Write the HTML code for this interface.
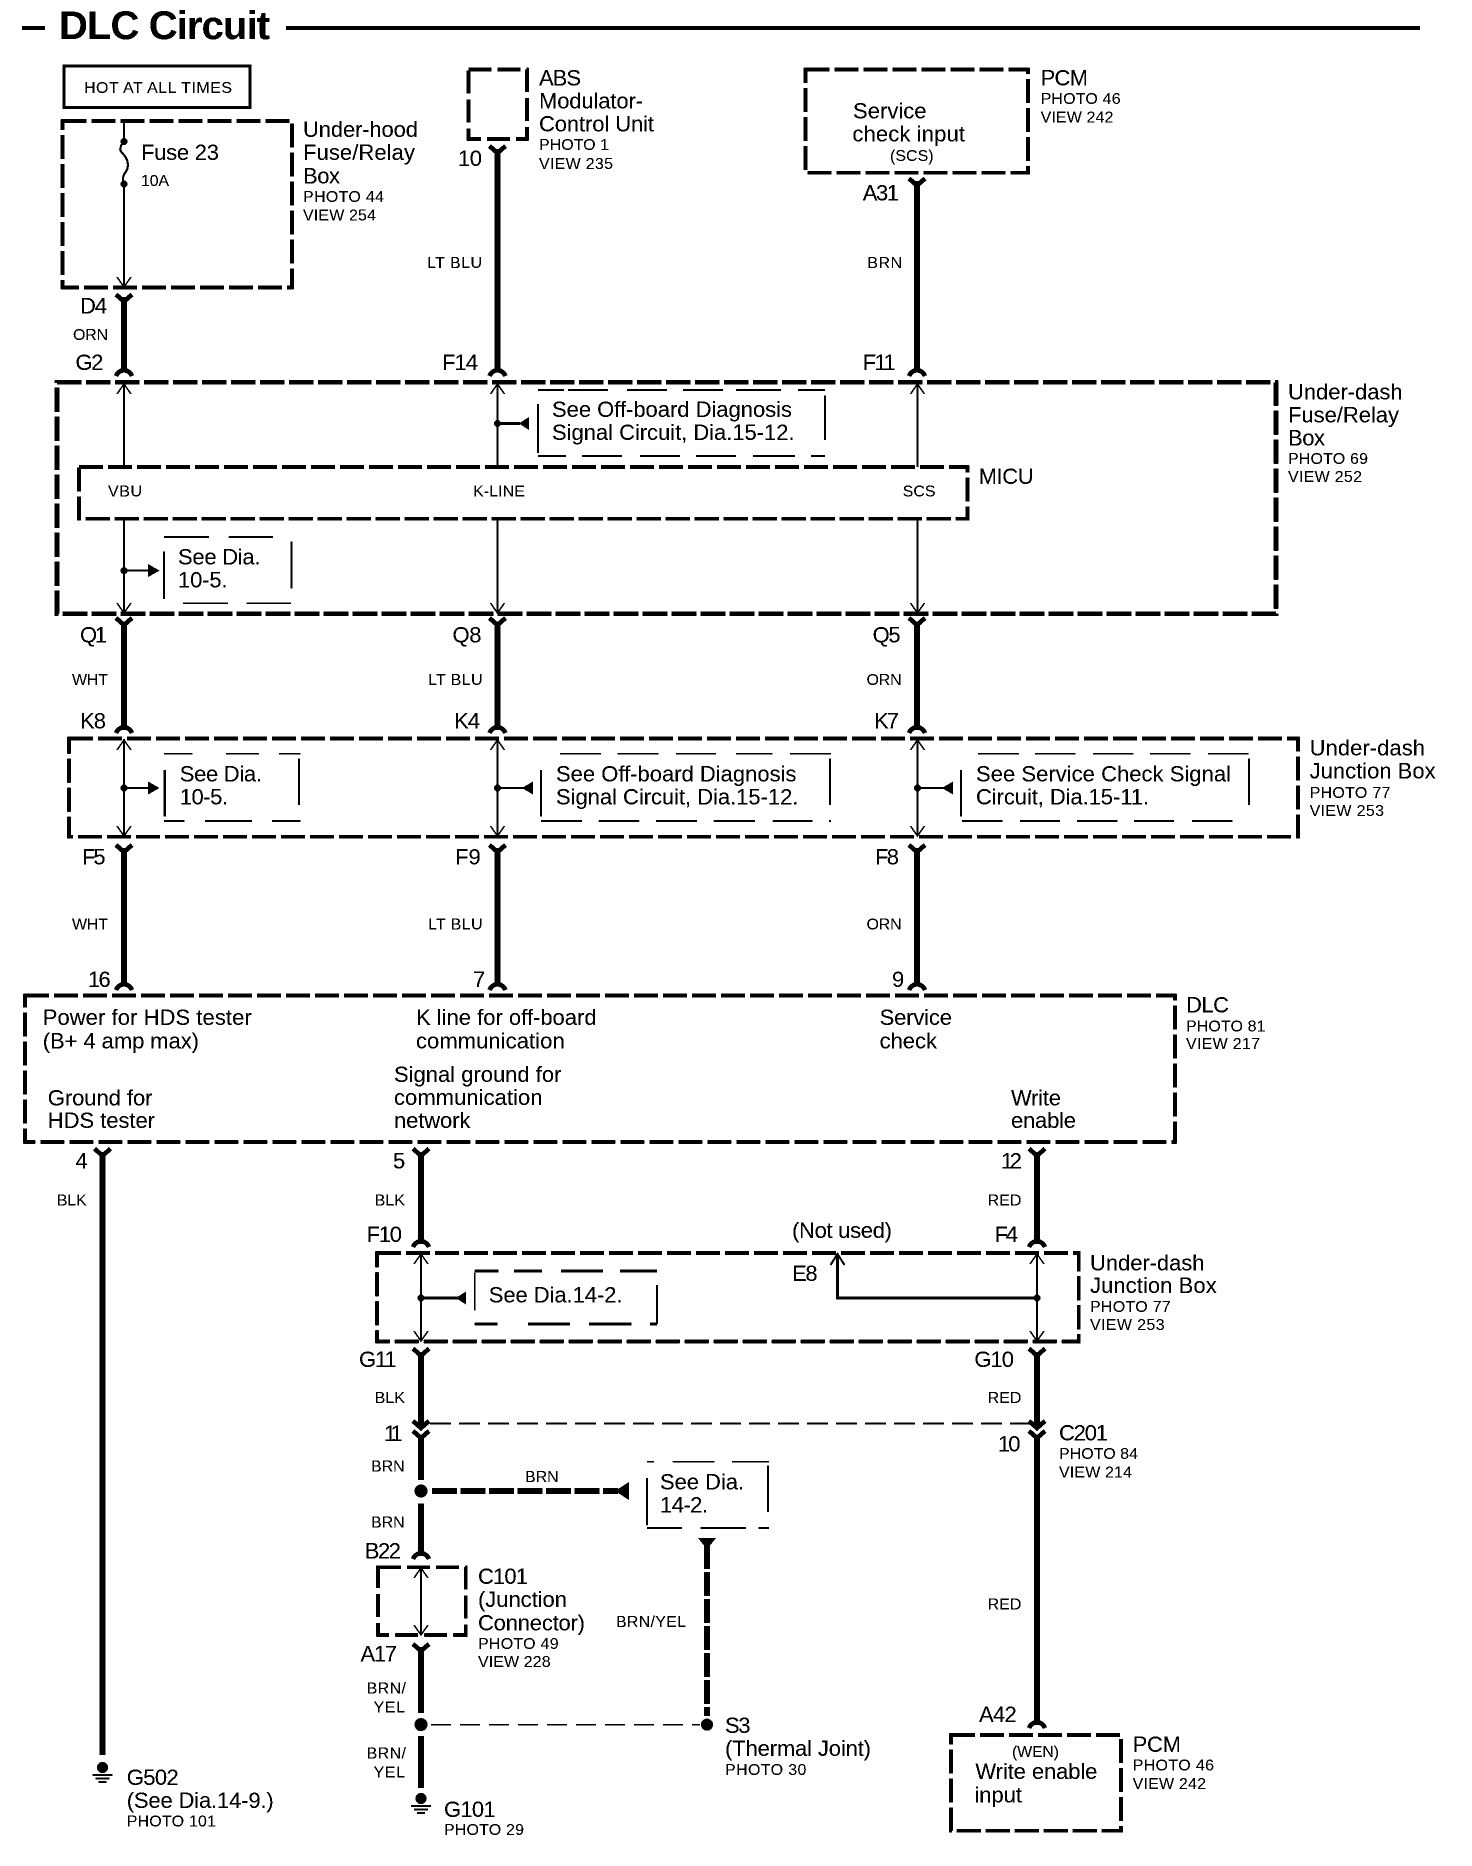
<!DOCTYPE html>
<html lang="en"><head><meta charset="utf-8"><title>DLC Circuit</title>
<style>
html,body{margin:0;padding:0;background:#fff}
svg{display:block;background:#fff}
text{font-family:"Liberation Sans",Arial,sans-serif;font-size:22px;fill:#000;transform:translateX(-1px)}
.s{font-size:16px}
.n{fill:none;stroke:#000}
.b{stroke-width:4.5;stroke-dasharray:24.5 4.5}
.m{stroke-width:3.6;stroke-dasharray:24 5}
.w{stroke-width:6}
.t{stroke-width:1.5}
.h{stroke-width:2;stroke-dasharray:40 18}
</style></head><body>
<svg xmlns="http://www.w3.org/2000/svg" width="1472" height="1866" viewBox="0 0 1472 1866">
<defs>
<filter id="bw" x="0" y="0" width="100%" height="100%" color-interpolation-filters="sRGB"><feFlood flood-color="#fff" result="bg"/><feMerge result="m"><feMergeNode in="bg"/><feMergeNode in="SourceGraphic"/></feMerge><feComponentTransfer in="m"><feFuncR type="discrete" tableValues="0 0 0 0 0 0 1 1 1 1"/><feFuncG type="discrete" tableValues="0 0 0 0 0 0 1 1 1 1"/><feFuncB type="discrete" tableValues="0 0 0 0 0 0 1 1 1 1"/></feComponentTransfer></filter>
<g id="f"><path class="n" stroke-width="4.5" d="M-8 0L0 7L8 0"/></g>
<g id="a"><path class="n" stroke-width="4.5" d="M-8 6Q-6 1 0 0Q6 1 8 6"/></g>
<g id="u"><path class="n" stroke-width="1.5" d="M-7 10L0 0L7 10"/></g>
<g id="d"><path class="n" stroke-width="1.5" d="M-7 -10L0 0L7 -10"/></g>
<g id="g"><circle cx="0" cy="-0.500" r="5.500"/><path class="n" stroke-width="2" d="M-10 7H10M-7 10.500H7M-4 14H4"/></g>
</defs>
<g filter="url(#bw)">

<!-- title -->
<path class="n" stroke-width="4" d="M22 28H45M286 28H1420"/>
<text x="60" y="39" style="font-size:40px;font-weight:bold" textLength="211">DLC Circuit</text>

<!-- hot at all times -->
<rect class="n" stroke-width="3" x="64" y="66" width="186" height="41.500"/>
<text class="s" x="85" y="93" textLength="148">HOT AT ALL TIMES</text>

<!-- under-hood -->
<rect class="n m" x="62.500" y="121" width="229.500" height="166.500"/>
<path class="n t" d="M124 121V141M124 184V287"/>
<path class="n" stroke-width="2" d="M124 141C118 149 120 151 124 155C129 161 129 168 125 173C122 177 123 180 124 184"/>
<circle cx="124" cy="141.500" r="3.500"/><circle cx="124" cy="184" r="3.500"/>
<use href="#d" x="124" y="287"/>
<text x="142" y="160" textLength="78">Fuse 23</text>
<text class="s" x="142" y="186" textLength="28">10A</text>
<text x="304" y="137" textLength="115">Under-hood</text>
<text x="304" y="160" textLength="112">Fuse/Relay</text>
<text x="304" y="183.500" textLength="37">Box</text>
<text class="s" x="304" y="202" textLength="81">PHOTO 44</text>
<text class="s" x="304" y="220.500" textLength="73">VIEW 254</text>

<!-- ABS -->
<rect class="n" stroke-width="3.500" stroke-dasharray="23 6" x="468.500" y="69.500" width="58.500" height="69.500"/>
<text x="540" y="85.400" textLength="42">ABS</text>
<text x="540" y="108.700" textLength="104">Modulator-</text>
<text x="540" y="131.700" textLength="115">Control Unit</text>
<text class="s" x="540" y="150" textLength="70">PHOTO 1</text>
<text class="s" x="540" y="169" textLength="74">VIEW 235</text>

<!-- PCM top -->
<rect class="n m" x="805.500" y="69.600" width="222.500" height="103.200"/>
<text x="854" y="118.600" textLength="73.500">Service</text>
<text x="853.400" y="141.600" textLength="112.600">check input</text>
<text class="s" x="891" y="161" textLength="43.600">(SCS)</text>
<text x="1041.600" y="85.400" textLength="47.400">PCM</text>
<text class="s" x="1041.600" y="104" textLength="80">PHOTO 46</text>
<text class="s" x="1041.600" y="122.500" textLength="72.800">VIEW 242</text>

<!-- wires row 1 -->
<path class="n w" d="M124 297V372M497.500 149V372M917 181V372"/>
<use href="#f" x="124" y="294.500"/><use href="#f" x="497.500" y="146"/><use href="#f" x="917" y="178.500"/>
<use href="#a" x="124" y="370"/><use href="#a" x="497.500" y="370"/><use href="#a" x="917" y="370"/>
<text x="81" y="313.600" textLength="27">D4</text>
<text class="s" x="74" y="340" textLength="35">ORN</text>
<text x="76.500" y="370" textLength="28">G2</text>
<text x="459" y="166" textLength="24">10</text>
<text class="s" x="428" y="268" textLength="55">LT BLU</text>
<text x="443" y="370" textLength="36">F14</text>
<text x="863.700" y="200.500" textLength="36.300">A31</text>
<text class="s" x="868.400" y="268" textLength="34.600">BRN</text>
<text x="863.700" y="370" textLength="33">F11</text>

<!-- under-dash fuse/relay box -->
<rect class="n b" x="57" y="382.400" width="1219" height="231.300"/>
<rect class="n m" x="79" y="467" width="888.500" height="51.800"/>
<path class="n t" d="M124 382V467M124 519V613M497.500 382V467M497.500 519V613M917.500 382V467M917.500 519V613"/>
<use href="#u" x="124" y="384"/><use href="#u" x="497.500" y="384"/><use href="#u" x="917.500" y="384"/>
<use href="#d" x="124" y="613"/><use href="#d" x="497.500" y="613"/><use href="#d" x="917.500" y="613"/>
<text class="s" x="109" y="496.400" textLength="34">VBU</text>
<text class="s" x="474" y="496.400" textLength="52">K-LINE</text>
<text class="s" x="903.600" y="496.400" textLength="33">SCS</text>
<text x="979.600" y="484" textLength="55">MICU</text>
<text x="1289" y="399.400" textLength="114.600">Under-dash</text>
<text x="1289" y="422.700" textLength="111">Fuse/Relay</text>
<text x="1289" y="445.600" textLength="37">Box</text>
<text class="s" x="1289" y="464" textLength="80">PHOTO 69</text>
<text class="s" x="1289" y="482" textLength="74">VIEW 252</text>

<circle cx="497.500" cy="423.500" r="3.500"/>
<path class="n" stroke-width="2.500" d="M497.500 423.500H520"/><path d="M519 423.500L529 417V430Z"/>
<path class="n t" d="M538 404V453M825 395.400V440"/>
<path class="n t" d="M538 390H564M568 390H608M627 390H667M683 390H723M736 390H781M798 390H825M538 456H566M582 456H622M640 456H680M696 456H736M753 456H795M811 456H825"/>
<text x="553" y="417" textLength="240">See Off-board Diagnosis</text>
<text x="553" y="440" textLength="242.600">Signal Circuit, Dia.15-12.</text>

<circle cx="124" cy="570.600" r="3.500"/>
<path class="n" stroke-width="2" d="M124 570.600H150"/><path d="M148 564V577L159.500 570.600Z"/>
<path class="n" stroke-width="2" d="M164 551.600V599M291.500 541.700V588.400"/>
<path class="n" stroke-width="1.500" d="M164 537H209M228.600 537H273M183 603.400H228M246.500 603.400H291"/>
<text x="179" y="564.600" textLength="82.500">See Dia.</text>
<text x="179" y="587.600" textLength="49.600">10-5.</text>

<!-- row Q/K -->
<path class="n w" d="M124 622V730M497.500 622V730M917 622V730"/>
<use href="#f" x="124" y="618"/><use href="#f" x="497.500" y="618"/><use href="#f" x="917" y="618"/>
<use href="#a" x="124" y="727"/><use href="#a" x="497.500" y="727"/><use href="#a" x="917" y="727"/>
<text x="81" y="642.500" textLength="27">Q1</text>
<text class="s" x="73" y="685" textLength="36">WHT</text>
<text x="81" y="728.700" textLength="26">K8</text>
<text x="453.500" y="642.500" textLength="29">Q8</text>
<text class="s" x="429" y="685" textLength="54.500">LT BLU</text>
<text x="455" y="728.700" textLength="26">K4</text>
<text x="873.600" y="642.500" textLength="28">Q5</text>
<text class="s" x="867.500" y="685" textLength="35">ORN</text>
<text x="875" y="728.700" textLength="25">K7</text>

<!-- junction box -->
<rect class="n m" x="69" y="738.600" width="1229" height="98.100"/>
<path class="n t" d="M124 739V836M497.500 739V836M917.500 739V836"/>
<use href="#u" x="124" y="740"/><use href="#u" x="497.500" y="740"/><use href="#u" x="917.500" y="740"/>
<use href="#d" x="124" y="836"/><use href="#d" x="497.500" y="836"/><use href="#d" x="917.500" y="836"/>
<circle cx="124" cy="788" r="3.500"/><circle cx="497.500" cy="788" r="3.500"/><circle cx="917.500" cy="788" r="3.500"/>
<path class="n" stroke-width="2" d="M124 788H150M497.500 788H524M917.500 788H944"/>
<path d="M148 781.500V794.500L159.500 788Z"/><path d="M522 788L533 781.500V794.500Z"/><path d="M942 788L953 781.500V794.500Z"/>
<path class="n" stroke-width="2" d="M164.800 770V816.500M299 758.400V805M541 770V816.500M830 758.400V805"/>
<path class="n" stroke-width="1.500" d="M961 770V816.500M1249 758.400V805"/>
<path class="n t" d="M164 753.600H192.500M226 753.600H259M279 753.600H300.500M164 821H184.500M205 821H252M272 821H300.500"/>
<path class="n t" d="M560 753.600H601M617.400 753.600H658.700M676 753.600H716M736 753.600H772.600M790 753.600H831M541 821H582M598.600 821H639.400M656 821H697M713.600 821H755M772.600 821H812.500M829 821H831"/>
<path class="n t" d="M978 753.600H1019M1035 753.600H1075.400M1093 753.600H1133.600M1150 753.600H1190.500M1208 753.600H1248.700M962 821H1002.700M1020 821H1060M1077 821H1117.700M1134 821H1174M1192 821H1232.700"/>
<text x="180.700" y="781.300" textLength="82.300">See Dia.</text>
<text x="180.700" y="804.700" textLength="48.300">10-5.</text>
<text x="557" y="781.300" textLength="240.500">See Off-board Diagnosis</text>
<text x="557" y="804.700" textLength="242.400">Signal Circuit, Dia.15-12.</text>
<text x="977" y="781.300" textLength="255">See Service Check Signal</text>
<text x="977" y="804.700" textLength="173">Circuit, Dia.15-11.</text>
<text x="1310.600" y="755.400" textLength="115.400">Under-dash</text>
<text x="1310.600" y="778.400" textLength="126">Junction Box</text>
<text class="s" x="1310.600" y="798" textLength="80.800">PHOTO 77</text>
<text class="s" x="1310.600" y="816" textLength="74.400">VIEW 253</text>

<!-- row F -->
<path class="n w" d="M124 848V986M497.500 848V986M917 848V986"/>
<use href="#f" x="124" y="845"/><use href="#f" x="497.500" y="845"/><use href="#f" x="917" y="845"/>
<use href="#a" x="124" y="984"/><use href="#a" x="497.500" y="984"/><use href="#a" x="917" y="984"/>
<text x="83" y="864.500" textLength="23.600">F5</text>
<text class="s" x="73" y="929.600" textLength="36">WHT</text>
<text x="89" y="987" textLength="22.700">16</text>
<text x="456" y="864.500" textLength="25.700">F9</text>
<text class="s" x="429" y="929.600" textLength="54.500">LT BLU</text>
<text x="474" y="987" textLength="10">7</text>
<text x="876" y="864.500" textLength="24">F8</text>
<text class="s" x="867.500" y="929.600" textLength="35">ORN</text>
<text x="893" y="987" textLength="12">9</text>

<!-- DLC -->
<rect class="n m" x="25" y="995.600" width="1150" height="146.400"/>
<text x="43.700" y="1025" textLength="209">Power for HDS tester</text>
<text x="43.700" y="1048.500" textLength="156.300">(B+ 4 amp max)</text>
<text x="417" y="1025" textLength="180.600">K line for off-board</text>
<text x="417" y="1048.500" textLength="148.700">communication</text>
<text x="880.600" y="1025" textLength="72.400">Service</text>
<text x="880.600" y="1048.500" textLength="57.400">check</text>
<text x="395" y="1082" textLength="167.400">Signal ground for</text>
<text x="395" y="1105" textLength="148.600">communication</text>
<text x="395" y="1128" textLength="76.400">network</text>
<text x="48.800" y="1105.600" textLength="104.700">Ground for</text>
<text x="48.800" y="1128" textLength="107.200">HDS tester</text>
<text x="1012" y="1105.600" textLength="50">Write</text>
<text x="1012" y="1128" textLength="65">enable</text>
<text x="1187" y="1012.600" textLength="43">DLC</text>
<text class="s" x="1187" y="1031.400" textLength="79.500">PHOTO 81</text>
<text class="s" x="1187" y="1049" textLength="74">VIEW 217</text>

<!-- below DLC -->
<path class="n w" d="M102.500 1152V1755M421 1152V1244M1037 1152V1244"/>
<use href="#f" x="102.500" y="1148.700"/><use href="#f" x="421" y="1148.700"/><use href="#f" x="1037" y="1148.700"/>
<use href="#a" x="421" y="1241"/><use href="#a" x="1037" y="1241"/>
<text x="76.500" y="1168.600" textLength="10.500">4</text>
<text class="s" x="57.700" y="1205.500" textLength="30">BLK</text>
<text x="394" y="1168.600" textLength="10.500">5</text>
<text class="s" x="375.600" y="1205.500" textLength="30.400">BLK</text>
<text x="1002" y="1168.600" textLength="21">12</text>
<text class="s" x="988.600" y="1205.500" textLength="33.800">RED</text>
<text x="793" y="1238" textLength="100">(Not used)</text>
<text x="367.600" y="1242" textLength="35.400">F10</text>
<text x="995.600" y="1242" textLength="23.400">F4</text>

<!-- junction box lower -->
<rect class="n m" x="377" y="1253" width="701.700" height="88.400"/>
<path class="n t" d="M421 1253V1341M1037 1253V1341"/>
<use href="#u" x="421" y="1254"/><use href="#u" x="1037" y="1254"/>
<use href="#d" x="421" y="1341"/><use href="#d" x="1037" y="1341"/>
<circle cx="421" cy="1298" r="3.500"/><circle cx="1037" cy="1298" r="3.500"/>
<path class="n" stroke-width="3" d="M421 1298H458M1037 1298H837.500V1256"/>
<path d="M456 1298L466 1291.500V1304.500Z"/>
<path class="n" stroke-width="2" d="M830.500 1265L837.500 1254L844.500 1265"/>
<path class="n t" d="M474.600 1272.700V1310.700"/>
<path class="n" stroke-width="2" d="M657 1285V1324"/>
<path class="n" stroke-width="2.500" d="M474.600 1271H498.600M514 1271H542M561 1271H603M620 1271H657M474.600 1324H497.700M528 1324H570M589 1324H631.500M650 1324H657"/>
<text x="489.700" y="1302.700" textLength="133.800">See Dia.14-2.</text>
<text x="793" y="1281" textLength="25.600">E8</text>
<text x="1091" y="1270.500" textLength="114.500">Under-dash</text>
<text x="1091" y="1293" textLength="126.700">Junction Box</text>
<text class="s" x="1091" y="1312" textLength="80.700">PHOTO 77</text>
<text class="s" x="1091" y="1330" textLength="74.600">VIEW 253</text>

<!-- G11 to C201 -->
<path class="n w" d="M421 1352V1426M1037 1352V1426"/>
<use href="#f" x="421" y="1348.600"/><use href="#f" x="1037" y="1348.600"/>
<path class="n" stroke-width="4.500" d="M413 1421L421 1428L429 1421M1029 1421L1037 1428L1045 1421"/>
<path class="n" stroke-width="2" stroke-dasharray="21 8" d="M430 1423.600H1030"/>
<use href="#f" x="421" y="1431"/><use href="#f" x="1037" y="1431"/>
<text x="360" y="1367" textLength="37.600">G11</text>
<text class="s" x="375.600" y="1403" textLength="30.400">BLK</text>
<text x="975.400" y="1367" textLength="39.600">G10</text>
<text class="s" x="988.600" y="1403" textLength="33.800">RED</text>
<text x="385" y="1440.800" textLength="18.800">11</text>
<text x="999" y="1451.600" textLength="22.500">10</text>
<text x="1060" y="1440.400" textLength="49">C201</text>
<text class="s" x="1060" y="1459" textLength="79">PHOTO 84</text>
<text class="s" x="1060" y="1477.500" textLength="73">VIEW 214</text>

<!-- BRN -->
<path class="n w" d="M421 1435V1480M421 1503.500V1556"/>
<circle cx="421" cy="1491" r="6.500"/>
<path class="n" stroke-width="6" stroke-dasharray="25 3.500" d="M432 1491H618"/>
<path d="M615 1491L629 1482V1500Z"/>
<text class="s" x="372" y="1471.500" textLength="33.600">BRN</text>
<text class="s" x="526" y="1482" textLength="33.600">BRN</text>
<text class="s" x="372" y="1527.500" textLength="33.600">BRN</text>
<text x="365.700" y="1558.500" textLength="36.300">B22</text>
<use href="#a" x="421" y="1553"/>

<!-- see dia 14-2 (small) -->
<path class="n t" d="M647 1478V1525.400"/>
<path class="n" stroke-width="2" d="M768 1465.500V1512"/>
<path class="n t" d="M647 1461.600H654M672.800 1461.600H714.600M732 1461.600H769M647 1528H682M700.500 1528H746M758.500 1528H769" stroke-width="2"/>
<text x="661" y="1489.500" textLength="84">See Dia.</text>
<text x="661" y="1512.600" textLength="48">14-2.</text>

<!-- BRN/YEL vertical -->
<path d="M698 1538H716L707 1549Z"/>
<path class="n" stroke-width="5.500" stroke-dasharray="24 3" d="M707 1545V1716"/>
<circle cx="707" cy="1724.600" r="6"/>
<text class="s" x="617" y="1627" textLength="70">BRN/YEL</text>
<path class="n" stroke-width="1.500" stroke-dasharray="20 9" d="M431 1724.600H700"/>
<text x="726" y="1733" textLength="25.500">S3</text>
<text x="726" y="1756" textLength="146">(Thermal Joint)</text>
<text class="s" x="726" y="1775" textLength="81.400">PHOTO 30</text>

<!-- C101 -->
<rect class="n" stroke-width="3.600" stroke-dasharray="23 6" x="378" y="1567.300" width="87.700" height="67.700"/>
<path class="n t" d="M421 1567V1635"/>
<use href="#u" x="421" y="1568"/><use href="#d" x="421" y="1635"/>
<text x="479" y="1584" textLength="50">C101</text>
<text x="479" y="1607" textLength="89">(Junction</text>
<text x="479" y="1630.400" textLength="107">Connector)</text>
<text class="s" x="479" y="1649" textLength="80.600">PHOTO 49</text>
<text class="s" x="479" y="1667" textLength="72.600">VIEW 228</text>
<text x="361.500" y="1661.500" textLength="36.500">A17</text>

<path class="n w" d="M421 1647V1713M421 1736V1787.700"/>
<use href="#f" x="421" y="1644"/>
<circle cx="421" cy="1724.600" r="6.500"/>
<text class="s" x="367.600" y="1693.500" textLength="39.400">BRN/</text>
<text class="s" x="374.600" y="1712.500" textLength="31.400">YEL</text>
<text class="s" x="367.600" y="1758.500" textLength="39.400">BRN/</text>
<text class="s" x="374.600" y="1777.500" textLength="31.400">YEL</text>

<!-- grounds -->
<use href="#g" x="102.500" y="1768"/>
<use href="#g" x="421" y="1799"/>
<text x="127.700" y="1785" textLength="52">G502</text>
<text x="127.700" y="1808" textLength="147">(See Dia.14-9.)</text>
<text class="s" x="127.700" y="1826.500" textLength="89.300">PHOTO 101</text>
<text x="445" y="1817" textLength="51.700">G101</text>
<text class="s" x="445" y="1835" textLength="80">PHOTO 29</text>

<!-- RED to PCM -->
<path class="n w" d="M1037 1435V1725"/>
<use href="#a" x="1037" y="1722"/>
<text class="s" x="988.600" y="1609.500" textLength="33.800">RED</text>
<text x="980" y="1721.800" textLength="37.700">A42</text>
<rect class="n m" x="951" y="1735" width="170" height="95.800"/>
<text class="s" x="1013" y="1757" textLength="47">(WEN)</text>
<text x="976.400" y="1779" textLength="122">Write enable</text>
<text x="975.400" y="1802.500" textLength="47.600">input</text>
<text x="1133.600" y="1751.800" textLength="48.400">PCM</text>
<text class="s" x="1133.600" y="1770.500" textLength="81.400">PHOTO 46</text>
<text class="s" x="1133.600" y="1789" textLength="73.400">VIEW 242</text>
</g>
</svg>
</body></html>
